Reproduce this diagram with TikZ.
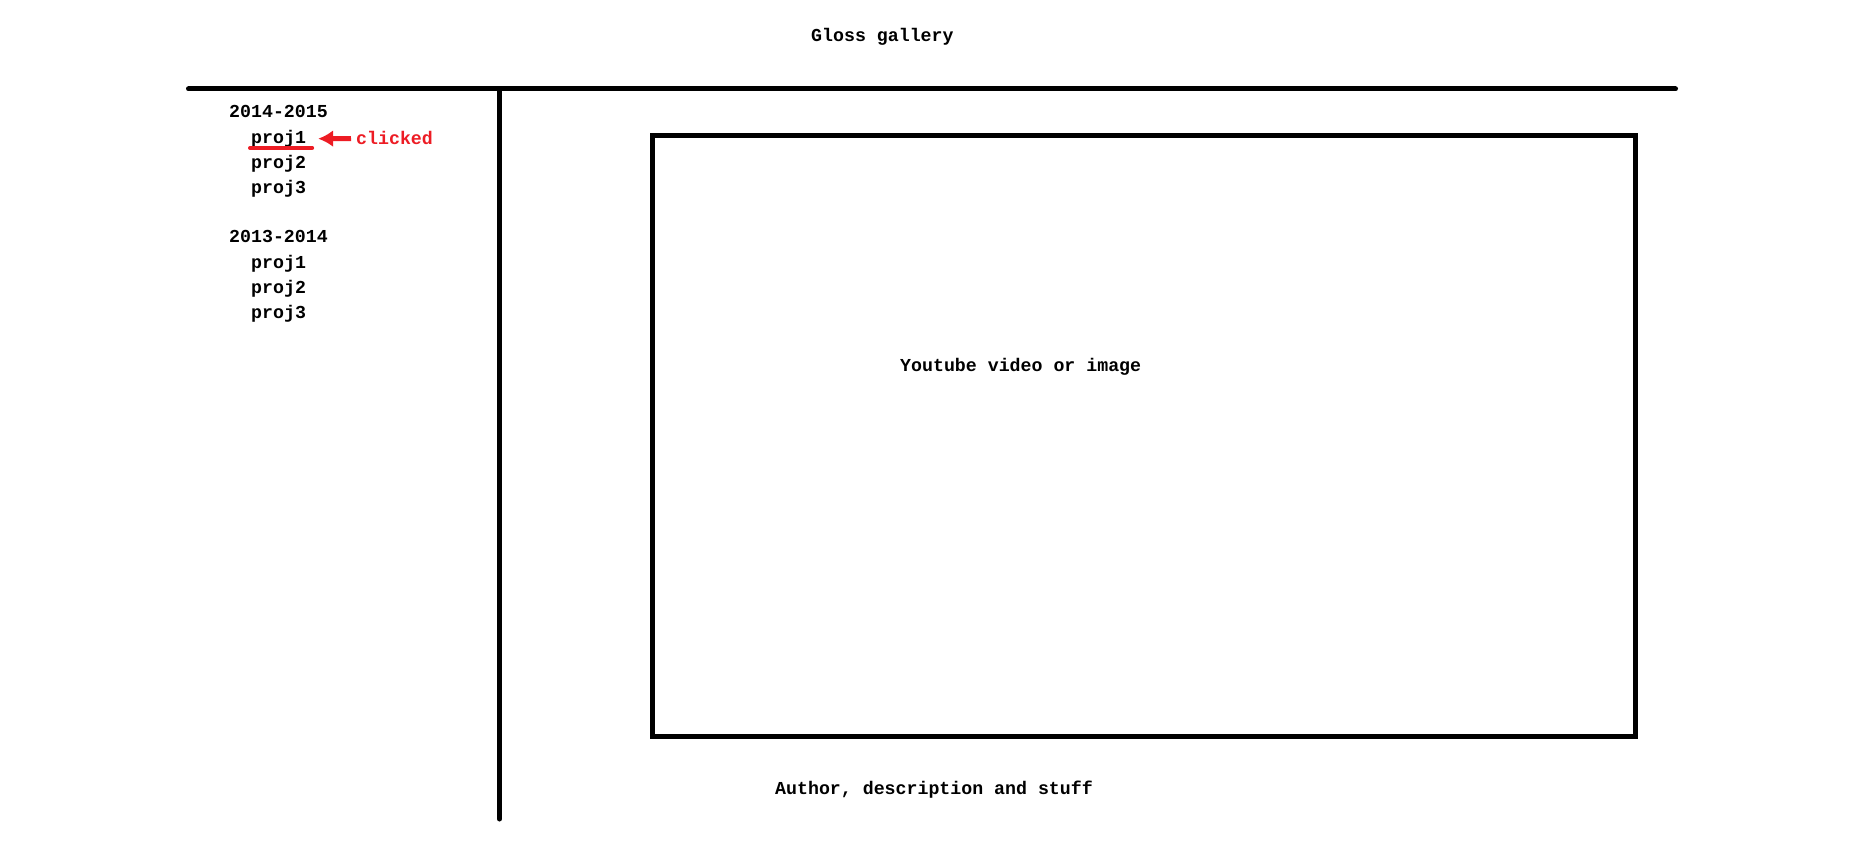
\documentclass[tikz,border=0pt]{standalone}
\usepackage{fontspec}
\usetikzlibrary{arrows.meta}
\newfontfamily\monofam{Liberation Mono}
\definecolor{clickred}{RGB}{237,28,36}
\tikzset{
  txt/.style={font=\monofam\bfseries\fontsize{18.25}{20}\selectfont, inner sep=0pt, anchor=base west},
  redtxt/.style={txt, text=clickred},
  thickline/.style={line width=5pt, line cap=round},
  framebox/.style={line width=5pt, draw, outer sep=0pt, inner sep=0pt},
  clickarrow/.style={line width=5pt, draw=clickred, -{Latex[length=15pt,width=17pt]}, shorten <=5pt, shorten >=12pt},
  underl/.style={line width=4pt, draw=clickred, line cap=round}
}
\begin{document}
\begin{tikzpicture}[x=1pt,y=-1pt]
\fill[white] (0,0) rectangle (1872,842);
\useasboundingbox (0,0) rectangle (1872,842);
% title
\node[txt] (title) at (811,41.5) {Gloss gallery};
% frame lines
\coordinate (hl) at (188.5,89);
\coordinate (hr) at (1675.5,89);
\coordinate (vt) at (499.5,89);
\coordinate (vb) at (499.5,819);
\draw[thickline] (hl) -- (hr);
\draw[thickline] (vt) -- (vb);
% main box
\node[framebox, minimum width=983pt, minimum height=601pt] (media) at (1144,436) {};
\node[txt] (mediatxt) at (900,371.5) {Youtube video or image};
\node[txt] (author) at (775,794) {Author, description and stuff};
% sidebar
\node[txt] (ya) at (229,118) {2014-2015};
\node[txt] (p1a) at (251,143.5) {proj1};
\node[txt] (p2a) at (251,168.5) {proj2};
\node[txt] (p3a) at (251,193.5) {proj3};
\node[txt] (yb) at (229,243) {2013-2014};
\node[txt] (p1b) at (251,268.5) {proj1};
\node[txt] (p2b) at (251,293.5) {proj2};
\node[txt] (p3b) at (251,318.5) {proj3};
% clicked marker
\node[redtxt] (clicked) at (356,145) {clicked};
\draw[underl] ([xshift=-1pt,yshift=-0.5pt]p1a.south west) -- ([xshift=6pt,yshift=-0.5pt]p1a.south east);
\draw[clickarrow] (clicked.west) -- (p1a.east);
\end{tikzpicture}
\end{document}
